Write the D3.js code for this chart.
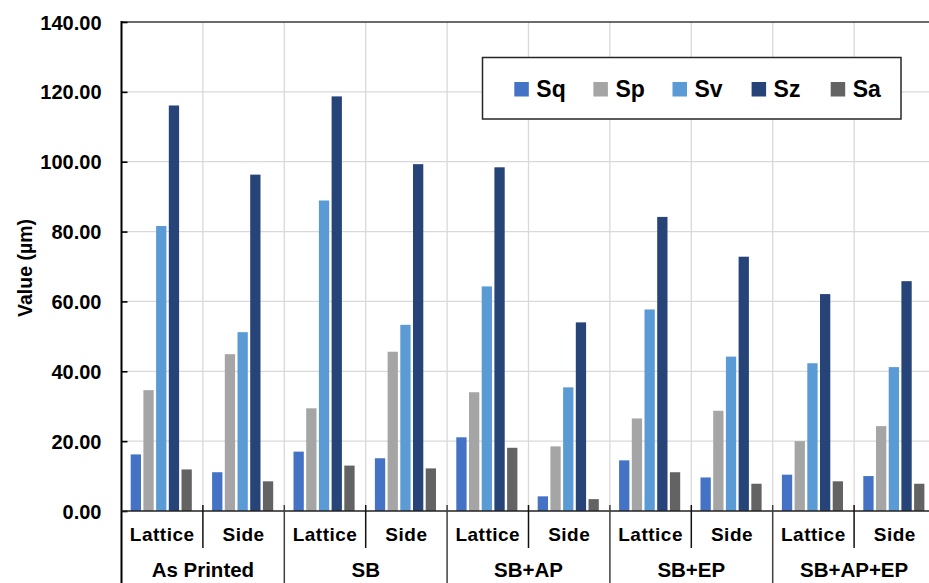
<!DOCTYPE html>
<html>
<head>
<meta charset="utf-8">
<script src="https://cdn.jsdelivr.net/npm/d3@7"></script>
<style>
  html, body { margin: 0; padding: 0; background: #fff; }
  svg { display: block; }
  text { font-family: "Liberation Sans", Arial, sans-serif; font-weight: bold; fill: #000; }
</style>
</head>
<body>
<svg id="chart" width="929" height="583"></svg>
<script>
// ---- data ----
const groups = ["As Printed", "SB", "SB+AP", "SB+EP", "SB+AP+EP"];
const subCats = ["Lattice", "Side"];
const seriesNames = ["Sq", "Sp", "Sv", "Sz", "Sa"];
const seriesColors = ["#4472C4", "#A5A5A5", "#5B9BD5", "#264478", "#636363"];
const Sq = [16.2, 11.1, 17.0, 15.1, 21.1, 4.2, 14.5, 9.6, 10.4, 10.0];
const Sp = [34.6, 44.9, 29.4, 45.6, 34.0, 18.5, 26.5, 28.7, 20.0, 24.3];
const Sv = [81.6, 51.2, 88.9, 53.3, 64.3, 35.4, 57.7, 44.2, 42.3, 41.2];
const Sz = [116.1, 96.3, 118.7, 99.3, 98.4, 54.0, 84.2, 72.8, 62.1, 65.8];
const Sa = [11.9, 8.5, 13.0, 12.2, 18.1, 3.4, 11.1, 7.8, 8.5, 7.8];
const yTicks = [0, 20, 40, 60, 80, 100, 120, 140];
const yLabel = "Value (µm)";

const seriesValues = [Sq, Sp, Sv, Sz, Sa];
const categories = [];
groups.forEach(g => subCats.forEach(s => categories.push(g + "|" + s)));

// ---- layout ----
const W = 929, H = 583;
const mLeft = 121.5, mRight = 935.5, mTop = 22, mBottom = 511;
const svg = d3.select("#chart");

const x0 = d3.scaleBand().domain(categories).range([mLeft, mRight]).padding(0);
const x1 = d3.scaleBand().domain(seriesNames).range([9.2, 70.3]).paddingInner(0.19).paddingOuter(0);
const y = d3.scaleLinear().domain([0, 140]).range([mBottom, mTop]);

// gridlines horizontal
svg.append("g").selectAll("line").data(yTicks.filter(t => t > 0 && t < 140)).join("line")
  .attr("x1", mLeft).attr("x2", W).attr("y1", d => y(d)).attr("y2", d => y(d))
  .attr("stroke", "#d9d9d9").attr("stroke-width", 1.3);
// gridlines vertical
svg.append("g").selectAll("line").data(categories.slice(1)).join("line")
  .attr("x1", d => x0(d)).attr("x2", d => x0(d)).attr("y1", mTop).attr("y2", mBottom)
  .attr("stroke", "#d9d9d9").attr("stroke-width", 1.3);

// top border
svg.append("line").attr("x1", mLeft).attr("x2", W).attr("y1", y(140)).attr("y2", y(140))
  .attr("stroke", "#3a3a3a").attr("stroke-width", 1.6);

// bars
const barG = svg.append("g");
seriesNames.forEach((s, si) => {
  barG.append("g").selectAll("rect").data(seriesValues[si]).join("rect")
    .attr("x", (d, i) => x0(categories[i]) + x1(s))
    .attr("width", x1.bandwidth())
    .attr("y", d => y(d))
    .attr("height", d => y(0) - y(d))
    .attr("fill", seriesColors[si]);
});

// y axis
const yAxis = d3.axisLeft(y).tickValues(yTicks).tickSize(-6).tickPadding(20)
  .tickFormat(d3.format(".2f"));
const yg = svg.append("g").attr("transform", `translate(${mLeft},0)`).call(yAxis);
yg.select(".domain").remove();
yg.selectAll(".tick line").attr("stroke", "#000").attr("stroke-width", 1.6);
yg.selectAll(".tick text").attr("font-size", 20).attr("font-family", "Liberation Sans, Arial, sans-serif")
  .attr("font-weight", "bold").attr("fill", "#000").attr("dy", "0.35em");
svg.append("line").attr("x1", mLeft).attr("x2", mLeft).attr("y1", mTop - 1).attr("y2", H)
  .attr("stroke", "#000").attr("stroke-width", 2);

// x axis line
svg.append("line").attr("x1", mLeft).attr("x2", W).attr("y1", mBottom).attr("y2", mBottom)
  .attr("stroke", "#222").attr("stroke-width", 1.6);

// sub-category separators
categories.forEach((c, i) => {
  if (i === 0) return;
  const isGroup = i % 2 === 0;
  svg.append("line").attr("x1", x0(c)).attr("x2", x0(c))
    .attr("y1", mBottom - 6).attr("y2", isGroup ? H : 548)
    .attr("stroke", isGroup ? "#404040" : "#111").attr("stroke-width", 1.5);
});
// sub-category labels
svg.append("g").selectAll("text").data(categories).join("text")
  .attr("x", d => x0(d) + x0.bandwidth() / 2)
  .attr("y", 541)
  .attr("text-anchor", "middle")
  .attr("font-size", 19)
  .attr("letter-spacing", 0.5)
  .text(d => d.split("|")[1]);
// group labels
svg.append("g").selectAll("text").data(groups).join("text")
  .attr("x", (g) => x0(g + "|" + subCats[0]) + x0.bandwidth())
  .attr("y", 577)
  .attr("text-anchor", "middle")
  .attr("font-size", 20.5)
  .text(d => d);

// y axis label
svg.append("text")
  .attr("transform", `translate(31.5,268) rotate(-90)`)
  .attr("text-anchor", "middle")
  .attr("font-size", 19.5)
  .text(yLabel);

// legend
const lg = svg.append("g");
lg.append("rect").attr("x", 482.5).attr("y", 57.5).attr("width", 418.5).attr("height", 61.5)
  .attr("fill", "#fff").attr("stroke", "#262626").attr("stroke-width", 1.5);
const legX = d3.scalePoint().domain(seriesNames).range([514.3, 830.7]);
seriesNames.forEach((s, i) => {
  lg.append("rect").attr("x", legX(s)).attr("y", 82).attr("width", 14.5).attr("height", 14.5)
    .attr("fill", seriesColors[i]);
  lg.append("text").attr("x", legX(s) + 22).attr("y", 96.5)
    .attr("font-family", "Lato, 'Open Sans', sans-serif").attr("font-size", 23)
    .attr("font-weight", "bold")
    .text(s);
});
</script>
</body>
</html>
